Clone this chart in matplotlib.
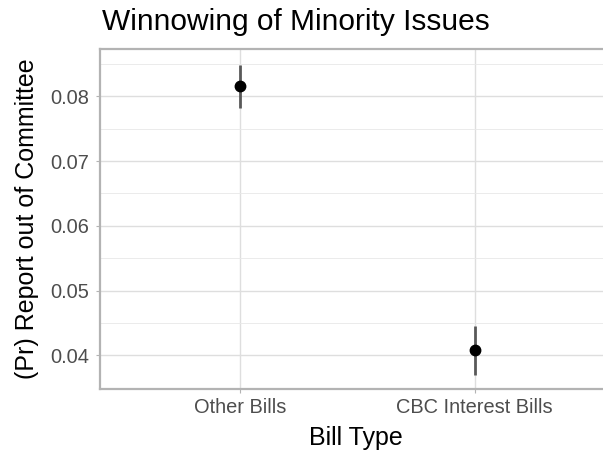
import matplotlib
matplotlib.use("Agg")
import matplotlib.pyplot as plt
from matplotlib.ticker import MultipleLocator, FormatStrFormatter

plt.rcParams['font.family'] = ['Liberation Sans', 'DejaVu Sans']

categories = ["Other Bills", "CBC Interest Bills"]
estimates = [0.0816, 0.0408]
lower = [0.0782, 0.0370]
upper = [0.0849, 0.0446]

W, H = 603, 454
fig = plt.figure(figsize=(W / 100, H / 100), dpi=100)
panel_top, panel_bottom, panel_left = 48.5, 389, 100
ax = fig.add_axes([panel_left / W, 1 - panel_bottom / H, 515 / W,
                   (panel_bottom - panel_top) / H])

xpos = list(range(1, len(categories) + 1))
ax.vlines(xpos, lower, upper, color="#595959", linewidth=2.0, zorder=3)
ax.plot(xpos, estimates, "o", color="black", markersize=7.5, zorder=4)

ax.set_xlim(0.4, 2.6)
ax.set_ylim(0.0348, 0.08738)
ax.set_xticks(xpos)
ax.set_xticklabels(categories)
ax.yaxis.set_major_locator(MultipleLocator(0.01))
ax.yaxis.set_minor_locator(MultipleLocator(0.005))
ax.yaxis.set_major_formatter(FormatStrFormatter("%.2f"))

ax.grid(which="major", color="#dedede", linewidth=1.0, zorder=0)
ax.grid(which="minor", axis="y", color="#e8e8e8", linewidth=0.6, zorder=0)
ax.set_axisbelow(True)

for side in ["left", "top", "bottom", "right"]:
    ax.spines[side].set_color("#b3b3b3")
    ax.spines[side].set_linewidth(1.6)

ax.tick_params(which="major", length=3, width=0.8, color="#b3b3b3",
               labelcolor="#4d4d4d", labelsize=14.4)
ax.tick_params(axis="y", pad=5)
ax.tick_params(axis="x", pad=3.5)
ax.tick_params(which="minor", length=0)

# axis titles and plot title placed in figure pixel coordinates
fig.text(356 / W, 1 - 445 / H, "Bill Type", fontsize=18,
         ha="center", va="baseline")
fig.text(27 / W, 1 - ((panel_top + panel_bottom) / 2) / H,
         "(Pr) Report out of Committee", fontsize=18,
         rotation=90, ha="center", va="center")
fig.text(102 / W, 1 - 30 / H, "Winnowing of Minority Issues",
         fontsize=21.5, ha="left", va="baseline")

fig.savefig("out.png", dpi=100)
